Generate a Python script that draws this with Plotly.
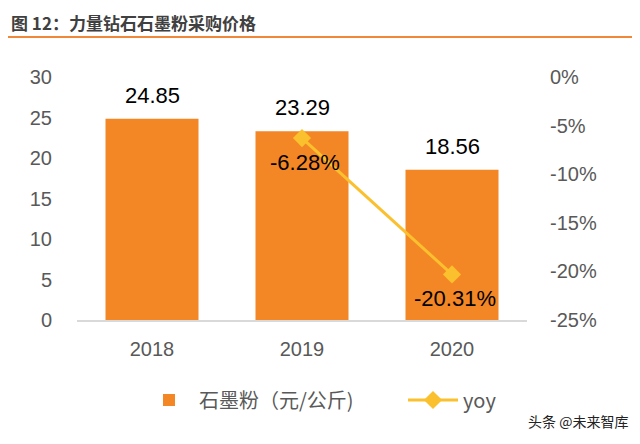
import plotly.graph_objects as go

years = ["2018", "2019", "2020"]
price = [24.85, 23.29, 18.56]
yoy_years = ["2019", "2020"]
yoy = [-6.28, -20.31]
left_ticks = [0, 5, 10, 15, 20, 25, 30]
right_ticks = [0, -5, -10, -15, -20, -25]
right_labels = ["0%", "-5%", "-10%", "-15%", "-20%", "-25%"]

BAR = "#F38625"
LINE = "#FBC02D"
TICK = "#595959"
FONT = "Liberation Sans, Arial, Noto Sans CJK SC, sans-serif"
CJK = "Noto Sans CJK SC, sans-serif"

xi = list(range(len(years)))
yoy_xi = [years.index(y) for y in yoy_years]

fig = go.Figure()
fig.add_trace(go.Bar(
    x=xi, y=price, name="石墨粉（元/公斤)", marker=dict(color=BAR, line=dict(width=0)),
    width=0.62, yaxis="y", legend="legend",
))
fig.add_trace(go.Scatter(
    x=yoy_xi, y=yoy, name="yoy", mode="lines+markers", yaxis="y2", legend="legend2",
    line=dict(color=LINE, width=3),
    marker=dict(symbol="diamond", size=14, color=LINE),
))

annotations = []
for x, v in zip(xi, price):
    annotations.append(dict(x=x, y=v, xref="x", yref="y", text=f"{v:.2f}",
                            showarrow=False, yanchor="bottom", yshift=9,
                            font=dict(family=FONT, size=22, color="#000000")))
for x, v in zip(yoy_xi, yoy):
    annotations.append(dict(x=x, y=v, xref="x", yref="y2", text=f"{v:.2f}%",
                            showarrow=False, yanchor="top", yshift=-10, xshift=3,
                            font=dict(family=FONT, size=22, color="#000000")))

PW, PH = 450.0, 243.0
def px(xp):
    return (xp - 77) / PW
def py(yp):
    return (320 - yp) / PH

annotations.append(dict(x=px(9), y=py(8), xref="paper", yref="paper",
                        text="<b>图 12：力量钻石石墨粉采购价格</b>", showarrow=False,
                        xanchor="left", yanchor="top",
                        font=dict(family=CJK, size=17, color="#404040")))
annotations.append(dict(x=px(630), y=py(421), xref="paper", yref="paper",
                        text="头条 @未来智库", showarrow=False,
                        xanchor="right", yanchor="middle",
                        font=dict(family=CJK, size=14, color="#222222")))

shapes = [dict(type="line", xref="paper", yref="paper",
               x0=px(8), x1=px(640), y0=py(37), y1=py(37),
               line=dict(color="#F0883A", width=2))]

leg_common = dict(orientation="h", xanchor="left", yanchor="middle",
                  font=dict(family=CJK, size=20, color=TICK), itemwidth=50,
                  bgcolor="rgba(0,0,0,0)")

fig.update_layout(
    width=632, height=436,
    margin=dict(l=69, r=113, t=69, b=124),
    paper_bgcolor="white", plot_bgcolor="white",
    showlegend=True,
    legend=dict(x=px(139), y=py(400), **leg_common),
    legend2=dict(x=px(403), y=py(400), **leg_common),
    xaxis=dict(range=[-0.5, 2.5], tickvals=xi, ticktext=years, showline=True,
               linecolor="#D9D9D9", linewidth=1.5, zeroline=False,
               ticks="", tickfont=dict(family=FONT, size=20, color=TICK),
               ticklabelstandoff=10, showgrid=False),
    yaxis=dict(range=[0, 30], tickvals=left_ticks, showgrid=False, zeroline=False,
               showline=False, ticks="", tickfont=dict(family=FONT, size=20, color=TICK),
               ticklabelstandoff=24),
    yaxis2=dict(range=[-25, 0], tickvals=right_ticks, ticktext=right_labels,
                overlaying="y", side="right", showgrid=False, zeroline=False,
                showline=False, ticks="", tickfont=dict(family=FONT, size=20, color=TICK),
                ticklabelstandoff=22),
    annotations=annotations,
    shapes=shapes,
)

fig.write_html("out.html")
